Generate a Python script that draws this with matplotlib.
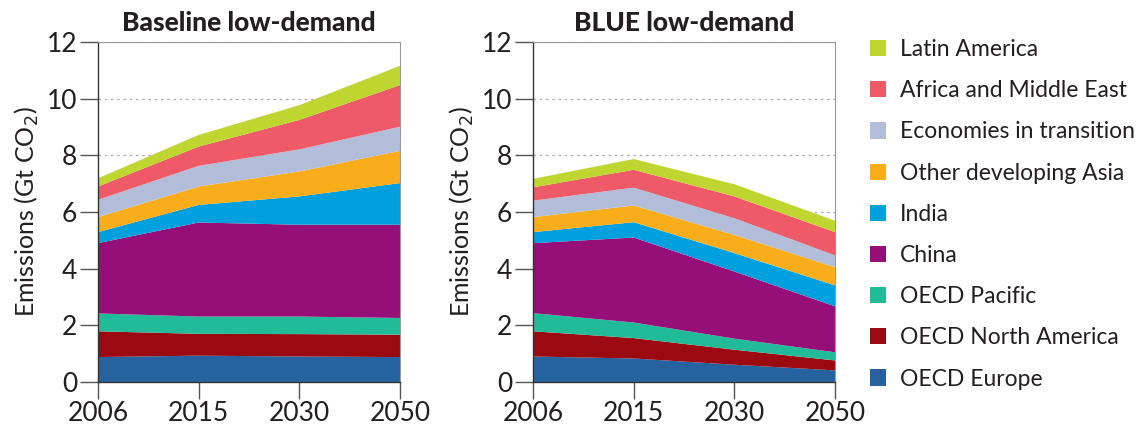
import numpy as np
import matplotlib
matplotlib.use("Agg")
from matplotlib import pyplot as plt
from matplotlib.patches import Patch

years = ["2006", "2015", "2030", "2050"]
regions = ["OECD Europe", "OECD North America", "OECD Pacific", "China", "India",
           "Other developing Asia", "Economies in transition",
           "Africa and Middle East", "Latin America"]
colors = ["#2762a0", "#9a0a10", "#22bb99", "#960e77", "#00a0df",
          "#f9ad1b", "#b2bed9", "#ef5a68", "#bfd630"]

# Gt CO2 per region, baseline low-demand
baseline = [
    [0.88, 0.93, 0.90, 0.88],
    [0.91, 0.77, 0.79, 0.79],
    [0.63, 0.61, 0.62, 0.59],
    [2.48, 3.32, 3.24, 3.29],
    [0.39, 0.62, 1.00, 1.47],
    [0.53, 0.65, 0.88, 1.14],
    [0.61, 0.73, 0.78, 0.85],
    [0.47, 0.68, 1.04, 1.47],
    [0.29, 0.41, 0.52, 0.68],
]
# BLUE low-demand
blue = [
    [0.90, 0.83, 0.61, 0.41],
    [0.89, 0.72, 0.53, 0.35],
    [0.64, 0.55, 0.39, 0.29],
    [2.47, 3.00, 2.37, 1.62],
    [0.39, 0.54, 0.65, 0.74],
    [0.53, 0.59, 0.64, 0.64],
    [0.58, 0.63, 0.59, 0.42],
    [0.47, 0.63, 0.77, 0.82],
    [0.30, 0.38, 0.43, 0.40],
]

plt.rcParams['font.family'] = ['Lato', 'DejaVu Sans']
text_col = "#231f20"

fig = plt.figure(figsize=(11.44, 4.26), dpi=100)
ax1 = fig.add_axes([98 / 1144, 44 / 426, 302 / 1144, 340 / 426])
ax2 = fig.add_axes([533 / 1144, 44 / 426, 302 / 1144, 340 / 426])


def draw(ax, data, title):
    x = np.arange(len(years))
    ax.stackplot(x, np.array(data), colors=colors, linewidth=0, zorder=2)
    ax.set_xlim(0, 3)
    ax.set_ylim(0, 12)
    ax.set_xticks(x)
    ax.set_xticklabels(years)
    ax.set_yticks(range(0, 13, 2))
    ax.grid(axis='y', color='#aaaaaa', linestyle=(0, (2, 3)), linewidth=0.9, zorder=0)
    ax.set_axisbelow(True)
    ax.tick_params(axis='y', direction='out', length=13, width=1, color='#555555',
                   labelsize=19, labelcolor=text_col, pad=2)
    ax.tick_params(axis='x', direction='out', length=12, width=1, color='#555555',
                   labelsize=19, labelcolor=text_col, pad=2)
    for side in ['top', 'right']:
        ax.spines[side].set_color('#999999')
        ax.spines[side].set_linewidth(0.8)
    for side in ['left', 'bottom']:
        ax.spines[side].set_color('#333333')
        ax.spines[side].set_linewidth(1.0)
    ax.set_ylabel("Emissions (Gt CO$_2$)", fontsize=18, color=text_col, labelpad=4)
    ax.set_title(title, fontsize=19, fontweight='black', color=text_col, pad=8)


draw(ax1, baseline, "Baseline low-demand")
draw(ax2, blue, "BLUE low-demand")

handles = [Patch(facecolor=c, edgecolor='none') for c in colors][::-1]
fig.legend(handles, regions[::-1], loc='upper left',
           bbox_to_anchor=(861 / 1144, 396 / 426), frameon=False,
           fontsize=16.5, handlelength=0.7, handleheight=0.7,
           handletextpad=0.6, labelspacing=0.88, labelcolor=text_col,
           borderaxespad=0)

fig.savefig("out.png", dpi=100)
